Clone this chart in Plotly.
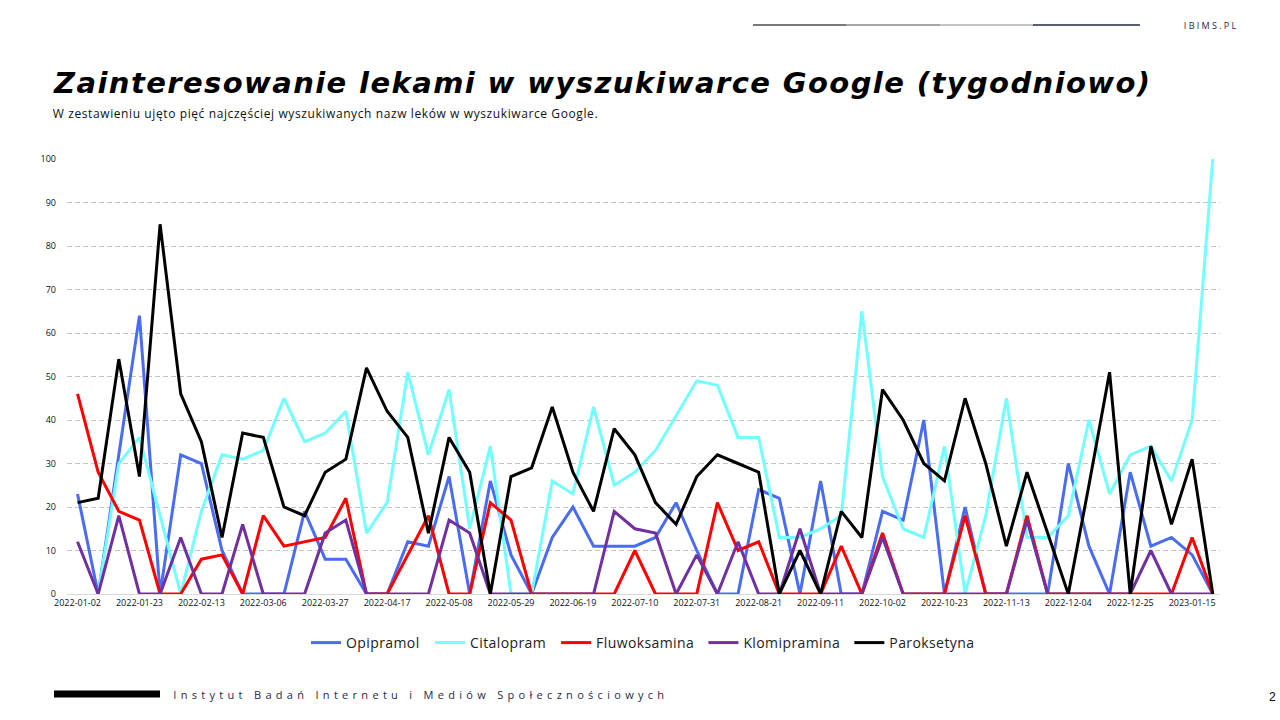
import plotly.graph_objects as go

weeks = [
    "2022-01-02", "2022-01-09", "2022-01-16", "2022-01-23", "2022-01-30",
    "2022-02-06", "2022-02-13", "2022-02-20", "2022-02-27", "2022-03-06",
    "2022-03-13", "2022-03-20", "2022-03-27", "2022-04-03", "2022-04-10",
    "2022-04-17", "2022-04-24", "2022-05-01", "2022-05-08", "2022-05-15",
    "2022-05-22", "2022-05-29", "2022-06-05", "2022-06-12", "2022-06-19",
    "2022-06-26", "2022-07-03", "2022-07-10", "2022-07-17", "2022-07-24",
    "2022-07-31", "2022-08-07", "2022-08-14", "2022-08-21", "2022-08-28",
    "2022-09-04", "2022-09-11", "2022-09-18", "2022-09-25", "2022-10-02",
    "2022-10-09", "2022-10-16", "2022-10-23", "2022-10-30", "2022-11-06",
    "2022-11-13", "2022-11-20", "2022-11-27", "2022-12-04", "2022-12-11",
    "2022-12-18", "2022-12-25", "2023-01-01", "2023-01-08", "2023-01-15",
    "2023-01-22",
]

tick_labels = [
    "2022-01-02", "2022-01-23", "2022-02-13", "2022-03-06", "2022-03-27",
    "2022-04-17", "2022-05-08", "2022-05-29", "2022-06-19", "2022-07-10",
    "2022-07-31", "2022-08-21", "2022-09-11", "2022-10-02", "2022-10-23",
    "2022-11-13", "2022-12-04", "2022-12-25", "2023-01-15",
]

opipramol = [23, 0, 32, 64, 0, 32, 30, 10, 0, 0, 0, 19, 8, 8, 0, 0, 12, 11, 27, 0,
             26, 9, 0, 13, 20, 11, 11, 11, 13, 21, 10, 0, 0, 24, 22, 0, 26, 0, 0, 19,
             17, 40, 0, 20, 0, 0, 0, 0, 30, 11, 0, 28, 11, 13, 9, 0]

citalopram = [None, 0, 30, 36, 18, 0, 19, 32, 31, 33, 45, 35, 37, 42, 14, 21, 51, 32, 47, 15,
              34, 0, 0, 26, 23, 43, 25, 28, 33, 41, 49, 48, 36, 36, 13, 13, 15, 18, 65, 27,
              15, 13, 34, 0, 18, 45, 13, 13, 18, 40, 23, 32, 34, 26, 40, 100]

fluwoksamina = [46, 28, 19, 17, 0, 0, 8, 9, 0, 18, 11, 12, 13, 22, 0, 0, 9, 18, 0, 0,
                21, 17, 0, 0, 0, 0, 0, 10, 0, 0, 0, 21, 10, 12, 0, 0, 0, 11, 0, 14,
                0, 0, 0, 18, 0, 0, 18, 0, 0, 0, 0, 0, 0, 0, 13, 0]

klomipramina = [12, 0, 18, 0, 0, 13, 0, 0, 16, 0, 0, 0, 14, 17, 0, 0, 0, 0, 17, 14,
                0, 0, 0, 0, 0, 0, 19, 15, 14, 0, 9, 0, 12, 0, 0, 15, 0, 0, 0, 13,
                0, 0, 0, 0, 0, 0, 17, 0, 0, 0, 0, 0, 10, 0, 0, 0]

paroksetyna = [21, 22, 54, 27, 85, 46, 35, 13, 37, 36, 20, 18, 28, 31, 52, 42, 36, 14, 36, 28,
               0, 27, 29, 43, 28, 19, 38, 32, 21, 16, 27, 32, 30, 28, 0, 10, 0, 19, 13, 47,
               40, 30, 26, 45, 30, 11, 28, 14, 0, 25, 51, 0, 34, 16, 31, 0]

series_names = ["Opipramol", "Citalopram", "Fluwoksamina", "Klomipramina", "Paroksetyna"]
series_values = [opipramol, citalopram, fluwoksamina, klomipramina, paroksetyna]
series_colors = ["#4a6cf2", "#72ffff", "#ff0000", "#7030a0", "#000000"]

fig = go.Figure()
for name, vals, col in zip(series_names, series_values, series_colors):
    fig.add_trace(go.Scatter(
        x=weeks, y=vals, name=name, mode="lines",
        line=dict(color=col, width=3),
        connectgaps=False,
    ))

# plot area in pixels
L, R, T, B = 67, 1220, 159, 594
W, H = R - L, B - T


def px(x):
    return (x - L) / W


def py(y):
    return (B - y) / H


fig.update_layout(
    width=1280, height=720,
    margin=dict(l=L, r=1280 - R, t=T, b=720 - B, pad=0),
    paper_bgcolor="white", plot_bgcolor="white",
    font=dict(family="Open Sans", color="#222222"),
    showlegend=True,
    legend=dict(
        orientation="h", x=0.5, xanchor="center", y=py(643), yanchor="middle",
        font=dict(family="Open Sans", size=14, color="#222222"),
        itemwidth=30, bgcolor="rgba(0,0,0,0)",
    ),
    xaxis=dict(
        type="category", range=[-0.51, 55.35],
        tickmode="array", tickvals=tick_labels, ticktext=tick_labels,
        showgrid=False, zeroline=False,
        showline=True, linecolor="#d9d9d9", linewidth=1,
        ticks="", tickangle=0,
        tickfont=dict(family="Open Sans", size=9, color="#111111"),
    ),
    yaxis=dict(
        range=[0, 100], tickmode="linear", tick0=0, dtick=10,
        showgrid=True, gridcolor="#c4c4c4", gridwidth=1, griddash="5px,3px",
        zeroline=False, showline=False, ticks="",
        ticklabelstandoff=10,
        tickfont=dict(family="Open Sans", size=9, color="#111111"),
    ),
)

annotations = [
    dict(text="Zainteresowanie lekami w wyszukiwarce Google (tygodniowo)",
         x=px(602), y=py(83), xanchor="center", yanchor="middle",
         font=dict(family="DejaVu Sans", size=29, color="#000000", weight=700, style="italic")),
    dict(text="W zestawieniu ujęto pięć najczęściej wyszukiwanych nazw leków w wyszukiwarce Google.",
         x=px(325), y=py(113), xanchor="center", yanchor="middle",
         font=dict(family="Open Sans", size=12, color="#111111")),
    dict(text="IBIMS.PL", x=px(1211), y=py(25), xanchor="center", yanchor="middle",
         font=dict(family="Open Sans", size=9, color="#1f2a44")),
    dict(text="Instytut Badań Internetu i Mediów Społecznościowych",
         x=px(421), y=py(694), xanchor="center", yanchor="middle",
         font=dict(family="Open Sans", size=11, color="#1f2a44")),
    dict(text="2", x=px(1272), y=py(697), xanchor="center", yanchor="middle",
         font=dict(family="Liberation Sans", size=12, color="#000000")),
]
for a in annotations:
    a.update(xref="paper", yref="paper", showarrow=False)
    fig.add_annotation(**a)

shapes = [
    dict(x0=753, x1=846, y0=25, y1=25, color="#4d4d4d", w=1.3),
    dict(x0=846, x1=940, y0=25, y1=25, color="#8a8a8a", w=1.3),
    dict(x0=940, x1=1033, y0=25, y1=25, color="#b0b0b0", w=1.3),
    dict(x0=1033, x1=1140, y0=25, y1=25, color="#1f2a44", w=1.3),
    dict(x0=54, x1=160, y0=694, y1=694, color="#000000", w=7),
]
for s in shapes:
    fig.add_shape(type="line", xref="paper", yref="paper",
                  x0=px(s["x0"]), x1=px(s["x1"]), y0=py(s["y0"]), y1=py(s["y1"]),
                  line=dict(color=s["color"], width=s["w"]))

post = """
document.body.style.margin = '0';
document.body.style.overflow = 'hidden';
document.querySelectorAll('text.annotation-text').forEach(function(t){
  var s = t.textContent;
  if (s.indexOf('Instytut') === 0) { t.style.letterSpacing = '4.3px'; }
  if (s.indexOf('IBIMS') === 0) { t.style.letterSpacing = '2.3px'; }
  if (s.indexOf('Zainteresowanie') === 0) { t.style.letterSpacing = '1.4px'; }
  if (s.indexOf('W zestawieniu') === 0) { t.style.letterSpacing = '0.6px'; }
});
document.querySelectorAll('g.legend [clip-path]').forEach(function(e){
  e.removeAttribute('clip-path');
});
document.querySelectorAll('g.legend text.legendtext').forEach(function(t){
  t.style.letterSpacing = '0.4px';
});
var items = document.querySelectorAll('g.legend g.traces');
items.forEach(function(g, i){
  var tr = g.getAttribute('transform') || '';
  var m = tr.match(/translate\\(([-0-9.e]+)[ ,]+([-0-9.e]+)\\)/);
  if (m) {
    var x = parseFloat(m[1]) + (i - 2) * 9 - 3;
    g.setAttribute('transform', 'translate(' + x + ',' + m[2] + ')');
  }
});
"""

fig.write_html("out.html", post_script=post, config={"displayModeBar": False})
